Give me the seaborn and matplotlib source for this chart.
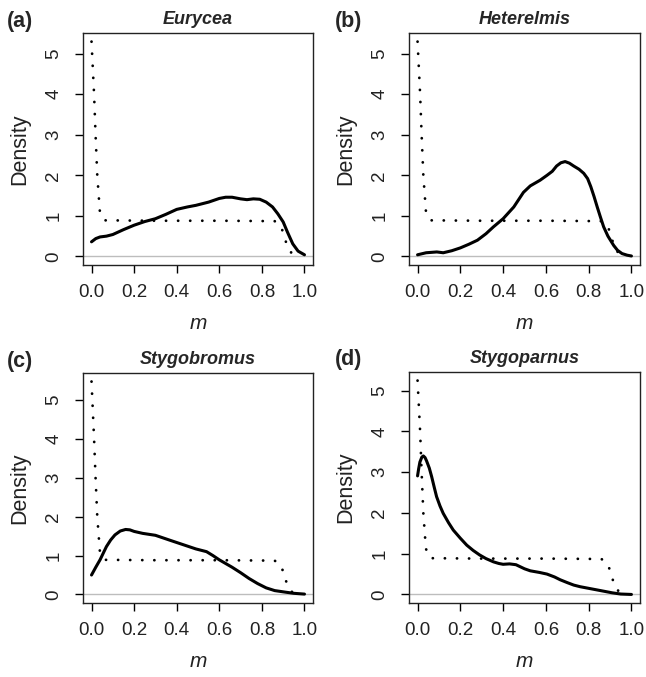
import matplotlib
matplotlib.use("Agg")
import matplotlib.pyplot as plt
import seaborn as sns

# ---- data ----
panels = ["(a)", "(b)", "(c)", "(d)"]
genera = ["Eurycea", "Heterelmis", "Stygobromus", "Stygoparnus"]

# prior density (dotted), same shape in every panel, peak differs slightly
prior_x = [0.0, 0.012, 0.019, 0.027, 0.039, 0.06, 0.3, 0.6, 0.86, 0.89, 0.905, 0.92, 0.95]
prior_y_tail = [4.0, 3.0, 2.0, 1.12, 0.89, 0.88, 0.88, 0.87, 0.74, 0.5, 0.23, 0.0]
prior_peak = [5.3, 5.3, 5.47, 5.25]

# posterior densities (solid)
eurycea_x = [0.0, 0.02, 0.04, 0.07, 0.1, 0.15, 0.2, 0.25, 0.3, 0.35, 0.4, 0.45, 0.49, 0.55,
             0.6, 0.63, 0.66, 0.7, 0.73, 0.76, 0.79, 0.82, 0.85, 0.875, 0.9, 0.92, 0.945,
             0.97, 1.0]
eurycea_y = [0.36, 0.44, 0.48, 0.50, 0.54, 0.66, 0.77, 0.86, 0.93, 1.04, 1.16, 1.22, 1.26, 1.34,
             1.43, 1.46, 1.46, 1.42, 1.40, 1.42, 1.41, 1.34, 1.22, 1.05, 0.85, 0.60, 0.31,
             0.13, 0.04]

heterelmis_x = [0.0, 0.04, 0.09, 0.12, 0.16, 0.2, 0.24, 0.28, 0.32, 0.355, 0.4, 0.45, 0.495,
                0.527, 0.573, 0.605, 0.63, 0.65, 0.67, 0.69, 0.71, 0.73, 0.755, 0.777, 0.795,
                0.81, 0.825, 0.84, 0.855, 0.87, 0.89, 0.917, 0.935, 0.956, 0.98, 1.0]
heterelmis_y = [0.04, 0.09, 0.11, 0.09, 0.14, 0.21, 0.30, 0.40, 0.56, 0.73, 0.93, 1.22, 1.58,
                1.74, 1.88, 2.0, 2.1, 2.23, 2.31, 2.34, 2.30, 2.23, 2.15, 2.05, 1.92,
                1.72, 1.48, 1.22, 0.97, 0.73, 0.50, 0.27, 0.15, 0.07, 0.03, 0.01]

stygobromus_x = [0.0, 0.02, 0.04, 0.07, 0.09, 0.11, 0.135, 0.16, 0.18, 0.2, 0.24, 0.3, 0.37,
                 0.43, 0.49, 0.54, 0.57, 0.6, 0.66, 0.7, 0.74, 0.78, 0.82, 0.86, 0.91, 0.95,
                 1.0]
stygobromus_y = [0.5, 0.70, 0.89, 1.23, 1.40, 1.53, 1.63, 1.67, 1.66, 1.62, 1.57, 1.52, 1.39,
                 1.28, 1.17, 1.10, 1.00, 0.89, 0.70, 0.56, 0.41, 0.28, 0.17, 0.10, 0.06, 0.03,
                 0.01]

stygoparnus_x = [0.0, 0.005, 0.011, 0.02, 0.027, 0.035, 0.042, 0.055, 0.066, 0.078, 0.089,
                 0.105, 0.12, 0.145, 0.167, 0.2, 0.23, 0.26, 0.29, 0.32, 0.355, 0.38, 0.40,
                 0.43, 0.46, 0.48, 0.5, 0.527, 0.57, 0.605, 0.64, 0.667, 0.7, 0.73, 0.76,
                 0.79, 0.83, 0.87, 0.91, 0.95, 1.0]
stygoparnus_y = [2.91, 3.08, 3.25, 3.37, 3.40, 3.36, 3.28, 3.10, 2.89, 2.63, 2.40,
                 2.17, 1.99, 1.76, 1.58, 1.38, 1.21, 1.08, 0.97, 0.88, 0.80, 0.76, 0.74,
                 0.75, 0.73, 0.68, 0.63, 0.58, 0.54, 0.50, 0.43, 0.36, 0.29, 0.23, 0.19,
                 0.16, 0.12, 0.08, 0.04, 0.01, 0.0]

post_x = [eurycea_x, heterelmis_x, stygobromus_x, stygoparnus_x]
post_y = [eurycea_y, heterelmis_y, stygobromus_y, stygoparnus_y]

x_ticks = [0.0, 0.2, 0.4, 0.6, 0.8, 1.0]
y_ticks = [0, 1, 2, 3, 4, 5]

# ---- style ----
sns.set_style("ticks")
plt.rcParams["font.family"] = ["Liberation Sans", "DejaVu Sans"]
plt.rcParams["axes.linewidth"] = 1.0

W, H = 646, 677
fig = plt.figure(figsize=(W / 100, H / 100), dpi=100)

# axes boxes in pixels: left, top, right, bottom
boxes = [(83, 33, 313, 265), (409, 33, 640, 265),
         (83, 373, 313, 603), (409, 372, 640, 603)]

for i, (l, t, r, b) in enumerate(boxes):
    ax = fig.add_axes([l / W, 1 - b / H, (r - l) / W, (b - t) / H])
    ax.axhline(0, color="#bdbdbd", lw=1.0, zorder=1)

    py = [prior_peak[i]] + prior_y_tail
    sns.lineplot(x=prior_x, y=py, ax=ax, color="black", lw=2.0, sort=False,
                 estimator=None, linestyle=(0, (0.05, 4.3)), dash_capstyle="round")
    sns.lineplot(x=post_x[i], y=post_y[i], ax=ax, color="black", lw=2.2,
                 sort=False, estimator=None)

    ax.set_xlim(-0.04, 1.04)
    ax.set_ylim(-0.04 * prior_peak[i], 1.04 * prior_peak[i])
    ax.set_xticks(x_ticks)
    ax.set_xticklabels([f"{v:.1f}" for v in x_ticks])
    ax.set_yticks(y_ticks)
    ax.set_yticklabels([str(v) for v in y_ticks], rotation=90, va="center")
    ax.tick_params(axis="both", direction="out", length=6, width=1.0,
                   labelsize=13.5, color="black", labelcolor="#222222")
    ax.tick_params(axis="x", pad=8)
    ax.tick_params(axis="y", pad=9)
    ax.set_xlabel("m", fontsize=15, style="italic", labelpad=9, color="#222222")
    ax.set_ylabel("Density", fontsize=15.5, labelpad=11, color="#222222")
    ax.set_title(genera[i], fontsize=13, weight="bold", style="italic", pad=6.5)
    for s in ax.spines.values():
        s.set_color("#222222")
        s.set_visible(True)

    fig.text((7 if l < 200 else 335) / W, 1 - (t - 12) / H, panels[i],
             fontsize=15.5, weight="bold", ha="left", va="center")

fig.savefig("out.png", dpi=100)
